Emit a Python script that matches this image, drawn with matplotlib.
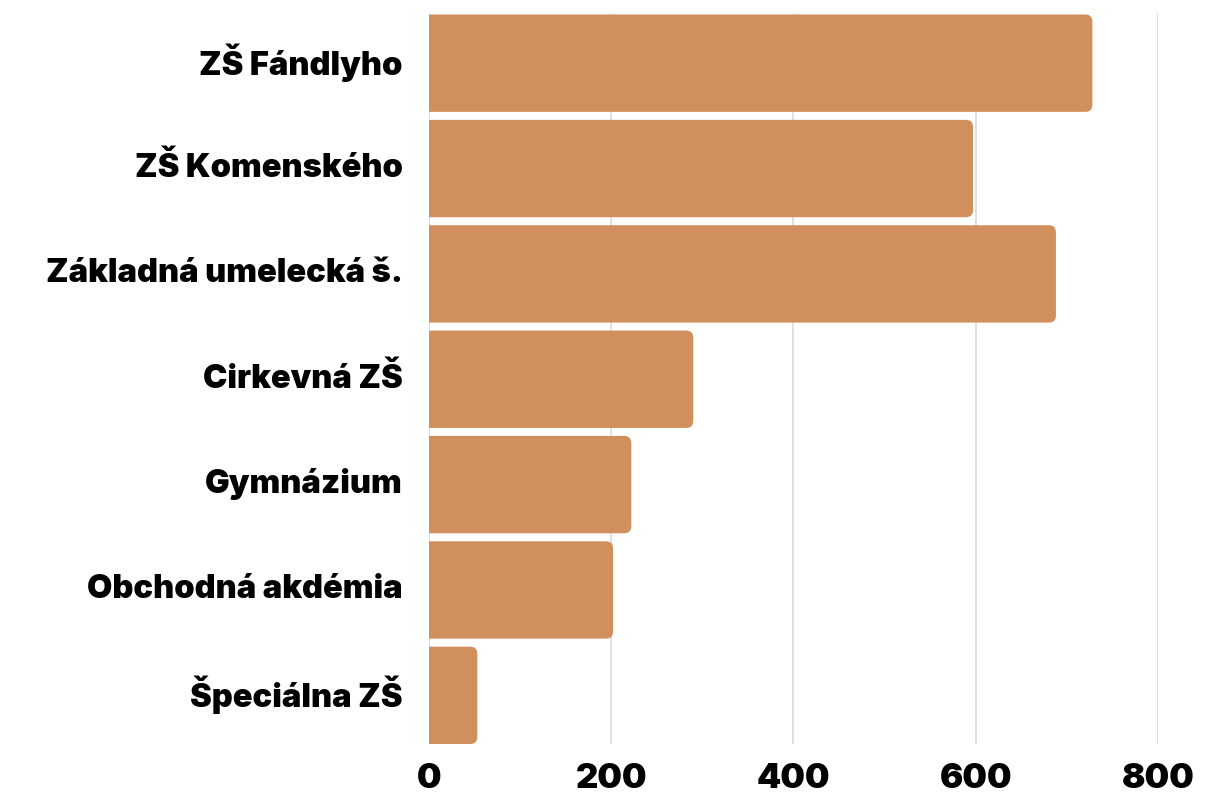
import matplotlib
matplotlib.use("Agg")
import matplotlib.pyplot as plt
import matplotlib.transforms as mtransforms
from matplotlib.patches import FancyBboxPatch

# Data
schools = ["ZŠ Fándlyho", "ZŠ Komenského", "Základná umelecká š.", "Cirkevná ZŠ",
           "Gymnázium", "Obchodná akdémia", "Špeciálna ZŠ"]
values = [728, 597, 688, 290, 222, 202, 53]
xticks = [0, 200, 400, 600, 800]

plt.rcParams["font.family"] = ["Inter", "DejaVu Sans"]

fig = plt.figure(figsize=(12.06, 8.03), dpi=100)
ax = fig.add_axes([0.3557, 0.0722, 0.6045, 0.9085])

color = "#D18F5D"
bars = ax.barh(range(len(schools)), values, height=0.924, color=color, zorder=2)

# Rounded right corners: extend rounded box left of 0, axes clip hides the left rounding
for b in bars:
    x0, y0 = b.get_x(), b.get_y()
    w, h = b.get_width(), b.get_height()
    b.set_visible(False)
    ax.add_patch(FancyBboxPatch((x0 - 20, y0), w + 20, h,
                                boxstyle="round,pad=0,rounding_size=7.7",
                                mutation_aspect=0.0087,
                                facecolor=color, edgecolor="none", zorder=2))

ax.set_xlim(0, 800)
ax.set_ylim(len(schools) - 1 + 0.462, -0.462)
ax.set_xticks(xticks)
ax.set_yticks(range(len(schools)))
ax.set_yticklabels(schools)

ax.grid(axis="x", color="#DDDDDD", linewidth=1.3, zorder=0)
ax.set_axisbelow(True)
for s in ax.spines.values():
    s.set_visible(False)

ax.tick_params(axis="y", length=0, pad=19, labelsize=23.5)
ax.tick_params(axis="x", length=0, pad=13, labelsize=25)
shift = mtransforms.ScaledTranslation(0, 5 / 100, fig.dpi_scale_trans)
for lbl in ax.get_yticklabels():
    lbl.set_fontweight("black")
    lbl.set_transform(lbl.get_transform() + shift)
for lbl in ax.get_xticklabels():
    lbl.set_fontweight("black")

fig.savefig("out.png", dpi=100, facecolor="white")
